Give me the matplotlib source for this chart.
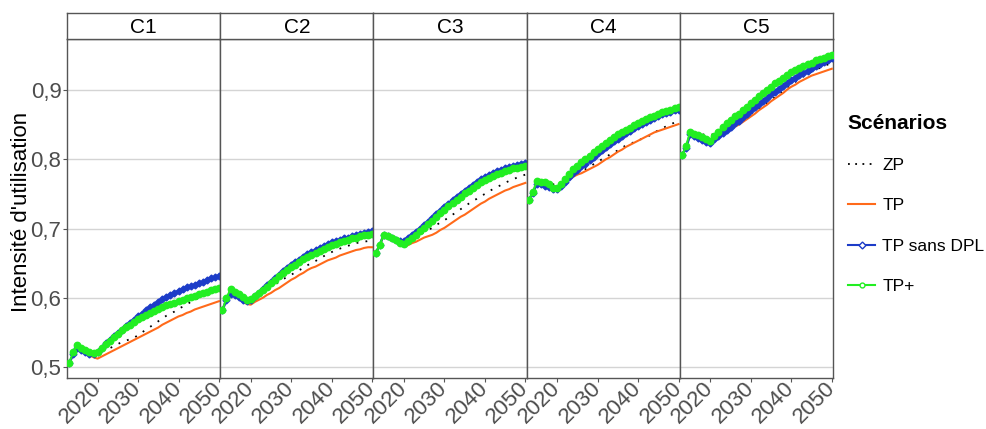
import matplotlib
matplotlib.use('Agg')
import matplotlib.pyplot as plt
import matplotlib.transforms as mtransforms
from matplotlib.lines import Line2D

plt.rcParams['font.family'] = ['Liberation Sans', 'DejaVu Sans']

# Données (intensité d'utilisation, 2013-2050)
years = list(range(2013, 2051))
panels = ['C1', 'C2', 'C3', 'C4', 'C5']

zp_c1 = [0.506, 0.520, 0.530, 0.527, 0.524, 0.521, 0.520, 0.521, 0.523, 0.525, 0.527, 0.530, 0.533,
         0.536, 0.538, 0.540, 0.542, 0.546, 0.550, 0.554, 0.558, 0.562, 0.566, 0.570, 0.574, 0.577,
         0.580, 0.584, 0.587, 0.590, 0.594, 0.597, 0.600, 0.603, 0.605, 0.607, 0.609, 0.610]
tp_c1 = [0.506, 0.518, 0.527, 0.524, 0.520, 0.517, 0.514, 0.512, 0.515, 0.518, 0.521, 0.524, 0.527,
         0.530, 0.533, 0.536, 0.539, 0.542, 0.545, 0.548, 0.551, 0.554, 0.557, 0.561, 0.564, 0.567,
         0.570, 0.573, 0.575, 0.578, 0.580, 0.583, 0.585, 0.587, 0.589, 0.591, 0.593, 0.595]
tpsd_c1 = [0.506, 0.518, 0.527, 0.525, 0.522, 0.519, 0.519, 0.522, 0.528, 0.534, 0.539, 0.544, 0.549,
           0.554, 0.559, 0.564, 0.568, 0.573, 0.577, 0.582, 0.586, 0.590, 0.594, 0.598, 0.601, 0.604,
           0.607, 0.610, 0.612, 0.615, 0.617, 0.619, 0.621, 0.623, 0.626, 0.628, 0.630, 0.632]
tpp_c1 = [0.506, 0.522, 0.532, 0.528, 0.525, 0.521, 0.520, 0.522, 0.528, 0.533, 0.538, 0.543, 0.548,
          0.553, 0.557, 0.561, 0.565, 0.569, 0.572, 0.575, 0.578, 0.581, 0.584, 0.586, 0.589, 0.591,
          0.593, 0.595, 0.597, 0.599, 0.601, 0.603, 0.605, 0.607, 0.609, 0.611, 0.613, 0.614]

zp_c2 = [0.582, 0.598, 0.609, 0.606, 0.603, 0.600, 0.598, 0.599, 0.601, 0.604, 0.607, 0.611, 0.615,
         0.619, 0.623, 0.627, 0.630, 0.633, 0.637, 0.640, 0.643, 0.647, 0.650, 0.653, 0.657, 0.660,
         0.663, 0.666, 0.669, 0.671, 0.673, 0.675, 0.677, 0.679, 0.680, 0.681, 0.682, 0.683]
tp_c2 = [0.582, 0.597, 0.606, 0.603, 0.599, 0.595, 0.591, 0.590, 0.594, 0.597, 0.600, 0.604, 0.607,
         0.611, 0.614, 0.618, 0.622, 0.626, 0.629, 0.633, 0.636, 0.640, 0.643, 0.645, 0.648, 0.651,
         0.654, 0.656, 0.658, 0.661, 0.663, 0.665, 0.667, 0.669, 0.670, 0.672, 0.673, 0.673]
tpsd_c2 = [0.582, 0.597, 0.606, 0.604, 0.601, 0.597, 0.595, 0.597, 0.602, 0.607, 0.613, 0.618, 0.623,
           0.628, 0.633, 0.638, 0.643, 0.647, 0.651, 0.655, 0.659, 0.663, 0.666, 0.669, 0.672, 0.675,
           0.678, 0.680, 0.682, 0.684, 0.686, 0.687, 0.689, 0.690, 0.692, 0.693, 0.695, 0.696]
tpp_c2 = [0.582, 0.600, 0.612, 0.609, 0.606, 0.601, 0.597, 0.598, 0.602, 0.607, 0.611, 0.616, 0.621,
          0.626, 0.631, 0.636, 0.640, 0.644, 0.648, 0.652, 0.656, 0.659, 0.662, 0.665, 0.668, 0.671,
          0.673, 0.676, 0.678, 0.680, 0.682, 0.684, 0.686, 0.687, 0.689, 0.690, 0.691, 0.692]

zp_c3 = [0.664, 0.676, 0.691, 0.689, 0.686, 0.682, 0.679, 0.679, 0.682, 0.686, 0.689, 0.692, 0.695,
         0.698, 0.701, 0.705, 0.709, 0.712, 0.716, 0.720, 0.724, 0.728, 0.732, 0.736, 0.740, 0.743,
         0.747, 0.750, 0.754, 0.757, 0.760, 0.763, 0.766, 0.769, 0.771, 0.774, 0.776, 0.778]
tp_c3 = [0.664, 0.676, 0.690, 0.687, 0.684, 0.680, 0.677, 0.674, 0.676, 0.679, 0.681, 0.684, 0.687,
         0.689, 0.691, 0.694, 0.698, 0.701, 0.705, 0.709, 0.713, 0.717, 0.720, 0.724, 0.728, 0.732,
         0.736, 0.739, 0.743, 0.746, 0.749, 0.752, 0.755, 0.757, 0.760, 0.762, 0.764, 0.766]
tpsd_c3 = [0.664, 0.676, 0.691, 0.689, 0.687, 0.684, 0.682, 0.682, 0.686, 0.690, 0.695, 0.700, 0.705,
           0.710, 0.715, 0.721, 0.726, 0.731, 0.736, 0.741, 0.746, 0.750, 0.755, 0.759, 0.763, 0.767,
           0.771, 0.774, 0.777, 0.780, 0.783, 0.785, 0.787, 0.789, 0.791, 0.792, 0.794, 0.795]
tpp_c3 = [0.664, 0.676, 0.691, 0.689, 0.687, 0.683, 0.679, 0.678, 0.682, 0.687, 0.691, 0.696, 0.701,
          0.706, 0.711, 0.717, 0.722, 0.727, 0.732, 0.737, 0.742, 0.746, 0.751, 0.755, 0.759, 0.763,
          0.767, 0.770, 0.773, 0.776, 0.779, 0.781, 0.783, 0.785, 0.787, 0.788, 0.789, 0.790]

zp_c4 = [0.741, 0.753, 0.768, 0.767, 0.766, 0.765, 0.764, 0.764, 0.766, 0.769, 0.772, 0.775, 0.779,
         0.782, 0.786, 0.789, 0.793, 0.796, 0.800, 0.803, 0.807, 0.810, 0.813, 0.817, 0.820, 0.822,
         0.825, 0.827, 0.830, 0.832, 0.835, 0.839, 0.842, 0.845, 0.848, 0.851, 0.853, 0.855]
tp_c4 = [0.741, 0.752, 0.765, 0.763, 0.761, 0.758, 0.755, 0.755, 0.761, 0.766, 0.771, 0.775, 0.778,
         0.780, 0.783, 0.786, 0.789, 0.792, 0.796, 0.800, 0.803, 0.807, 0.811, 0.814, 0.818, 0.821,
         0.824, 0.827, 0.830, 0.833, 0.836, 0.839, 0.841, 0.843, 0.845, 0.847, 0.849, 0.851]
tpsd_c4 = [0.741, 0.752, 0.765, 0.764, 0.762, 0.760, 0.757, 0.757, 0.762, 0.768, 0.774, 0.780, 0.785,
           0.790, 0.794, 0.799, 0.804, 0.809, 0.813, 0.818, 0.822, 0.826, 0.830, 0.834, 0.838, 0.841,
           0.845, 0.848, 0.851, 0.854, 0.857, 0.860, 0.862, 0.865, 0.867, 0.869, 0.871, 0.872]
tpp_c4 = [0.741, 0.753, 0.769, 0.768, 0.767, 0.765, 0.759, 0.759, 0.765, 0.772, 0.779, 0.786, 0.791,
          0.796, 0.800, 0.805, 0.810, 0.815, 0.819, 0.824, 0.828, 0.832, 0.836, 0.840, 0.843, 0.846,
          0.849, 0.852, 0.855, 0.858, 0.861, 0.863, 0.866, 0.868, 0.870, 0.872, 0.874, 0.875]

zp_c5 = [0.806, 0.818, 0.838, 0.837, 0.836, 0.836, 0.836, 0.836, 0.836, 0.838, 0.841, 0.845, 0.848,
         0.851, 0.855, 0.858, 0.862, 0.866, 0.870, 0.874, 0.878, 0.882, 0.886, 0.890, 0.895, 0.899,
         0.904, 0.908, 0.912, 0.916, 0.920, 0.923, 0.927, 0.930, 0.932, 0.935, 0.937, 0.938]
tp_c5 = [0.806, 0.817, 0.836, 0.834, 0.831, 0.828, 0.825, 0.823, 0.828, 0.832, 0.836, 0.840, 0.843,
         0.847, 0.850, 0.854, 0.858, 0.862, 0.866, 0.871, 0.875, 0.879, 0.884, 0.888, 0.892, 0.896,
         0.901, 0.905, 0.908, 0.912, 0.915, 0.918, 0.921, 0.923, 0.925, 0.927, 0.929, 0.931]
tpsd_c5 = [0.806, 0.817, 0.836, 0.834, 0.831, 0.828, 0.825, 0.824, 0.829, 0.834, 0.838, 0.843, 0.847,
           0.852, 0.856, 0.861, 0.866, 0.871, 0.875, 0.880, 0.885, 0.889, 0.894, 0.898, 0.902, 0.906,
           0.911, 0.915, 0.918, 0.922, 0.925, 0.928, 0.932, 0.935, 0.938, 0.941, 0.944, 0.946]
tpp_c5 = [0.806, 0.819, 0.840, 0.837, 0.835, 0.832, 0.829, 0.827, 0.834, 0.840, 0.847, 0.852, 0.857,
          0.862, 0.866, 0.871, 0.876, 0.881, 0.886, 0.891, 0.896, 0.901, 0.905, 0.910, 0.914, 0.918,
          0.922, 0.926, 0.929, 0.932, 0.935, 0.938, 0.940, 0.943, 0.945, 0.947, 0.949, 0.951]

scenarios = ['ZP', 'TP', 'TP sans DPL', 'TP+']
series = {
    'C1': [zp_c1, tp_c1, tpsd_c1, tpp_c1],
    'C2': [zp_c2, tp_c2, tpsd_c2, tpp_c2],
    'C3': [zp_c3, tp_c3, tpsd_c3, tpp_c3],
    'C4': [zp_c4, tp_c4, tpsd_c4, tpp_c4],
    'C5': [zp_c5, tp_c5, tpsd_c5, tpp_c5],
}

x_ticks = [2020, 2030, 2040, 2050]
y_ticks = [0.5, 0.6, 0.7, 0.8, 0.9]
y_labels = ['0,5', '0,6', '0,7', '0,8', '0,9']

col_orange = '#ff6a1a'
col_blue = '#1c3cc8'
col_green = '#22ee22'
col_border = '#555555'
col_grid = '#d4d4d4'
col_tick = '#4d4d4d'

W, H = 986, 429
fig = plt.figure(figsize=(W / 100, H / 100), dpi=100)

left_px, right_px = 67, 833
top_px, bot_px, strip_top = 39, 378, 13
pw = (right_px - left_px) / 5

for i, name in enumerate(panels):
    x0 = (left_px + i * pw) / W
    ax = fig.add_axes([x0, 1 - bot_px / H, pw / W, (bot_px - top_px) / H])
    zp, tp, tpsd, tpp = series[name]

    ax.plot(years, zp, color='black', lw=1.3, ls=(0, (1, 4)), zorder=3)
    ax.plot(years, tp, color=col_orange, lw=1.5, zorder=4)
    ax.plot(years, tpsd, color=col_blue, lw=1.8, marker='D', ms=3.5,
            mfc=col_blue, mec=col_blue, zorder=5)
    ax.plot(years, tpp, color=col_green, lw=1.5, marker='o', ms=4.6,
            mfc=col_green, mec=col_green, zorder=6)

    ax.set_xlim(2012.45, 2050.3)
    ax.set_ylim(0.484, 0.974)
    ax.set_yticks(y_ticks)
    ax.grid(axis='y', color=col_grid, lw=1)
    ax.set_axisbelow(True)
    for sp in ax.spines.values():
        sp.set_color(col_border)
        sp.set_linewidth(1)

    ax.set_xticks(x_ticks)
    ax.set_xticklabels([str(t) for t in x_ticks], rotation=45, ha='right',
                       va='center', rotation_mode='anchor', fontsize=16, color=col_tick)
    offset = mtransforms.ScaledTranslation(19 / 72, -4 / 72, fig.dpi_scale_trans)
    for lab in ax.get_xticklabels():
        lab.set_transform(lab.get_transform() + offset)
    ax.tick_params(axis='x', length=3, color=col_border, pad=2)

    if i == 0:
        ax.set_yticklabels(y_labels, fontsize=16, color=col_tick)
        ax.tick_params(axis='y', length=3, color=col_border, pad=1)
    else:
        ax.tick_params(axis='y', left=False, labelleft=False)

    # bandeau du facet
    sax = fig.add_axes([x0, 1 - top_px / H, pw / W, (top_px - strip_top) / H])
    sax.set_xticks([])
    sax.set_yticks([])
    sax.set_facecolor('white')
    for sp in sax.spines.values():
        sp.set_color(col_border)
        sp.set_linewidth(1)
    sax.text(0.5, 0.45, name, ha='center', va='center', fontsize=15,
             transform=sax.transAxes)

fig.text(22 / W, 1 - 212 / H, "Intensité d'utilisation", rotation=90,
         ha='center', va='center', fontsize=16)

handles = [
    Line2D([], [], color='black', lw=1.3, ls=(0, (1, 3))),
    Line2D([], [], color=col_orange, lw=1.5),
    Line2D([], [], color=col_blue, lw=1.5, marker='D', ms=3.5, mfc='white', mec=col_blue),
    Line2D([], [], color=col_green, lw=1.5, marker='o', ms=3.5, mfc='white', mec=col_green),
]
fig.legend(handles, scenarios, loc='upper left', bbox_to_anchor=(832 / W, 1 - 98 / H),
           frameon=False, title='Scénarios',
           title_fontproperties={'weight': 'bold', 'size': 15},
           fontsize=12.5, labelspacing=1.45, handlelength=1.6, handletextpad=0.4,
           alignment='left')

fig.savefig('out.png', dpi=100)
